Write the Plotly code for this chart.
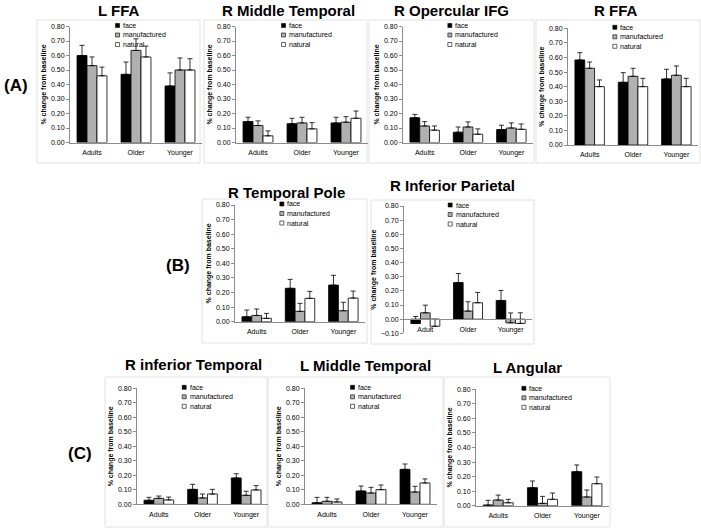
import plotly.graph_objects as go

# ---------------- data ----------------
CATS = ["Adults", "Older", "Younger"]
CATS_RIP = ["Adult", "Older", "Younger"]
SERIES = ["face", "manufactured", "natural"]
TICKS = [0.0, 0.1, 0.2, 0.3, 0.4, 0.5, 0.6, 0.7, 0.8]
TICKS_RIP = [-0.1, 0.0, 0.1, 0.2, 0.3, 0.4, 0.5, 0.6, 0.7, 0.8]

# each list: [face], [manufactured], [natural] over Adults / Older / Younger
L_FFA = [[0.60, 0.47, 0.39], [0.53, 0.635, 0.50], [0.46, 0.59, 0.50]]
L_FFA_ERR = [[0.07, 0.085, 0.09], [0.06, 0.08, 0.083], [0.06, 0.075, 0.078]]

R_MID_TEMP = [[0.144, 0.13, 0.135], [0.117, 0.135, 0.14], [0.046, 0.094, 0.167]]
R_MID_TEMP_ERR = [[0.03, 0.037, 0.039], [0.032, 0.039, 0.038], [0.034, 0.043, 0.05]]

R_OPERC_IFG = [[0.171, 0.071, 0.089], [0.114, 0.107, 0.10], [0.085, 0.057, 0.091]]
R_OPERC_IFG_ERR = [[0.023, 0.036, 0.03], [0.03, 0.035, 0.035], [0.029, 0.037, 0.037]]

R_FFA = [[0.583, 0.43, 0.453], [0.526, 0.471, 0.478], [0.40, 0.40, 0.40]]
R_FFA_ERR = [[0.05, 0.066, 0.066], [0.043, 0.055, 0.064], [0.046, 0.057, 0.057]]

R_TEMP_POLE = [[0.034, 0.229, 0.251], [0.043, 0.071, 0.075], [0.023, 0.16, 0.162]]
R_TEMP_POLE_ERR = [[0.046, 0.061, 0.067], [0.044, 0.055, 0.058], [0.034, 0.048, 0.048]]

R_INF_PAR = [[-0.031, 0.259, 0.132], [0.045, 0.057, -0.026], [-0.05, 0.116, -0.03]]
R_INF_PAR_ERR = [[0.05, 0.064, 0.071], [0.054, 0.066, 0.07], [0.05, 0.073, 0.075]]

R_INF_TEMP = [[0.028, 0.103, 0.182], [0.041, 0.044, 0.062], [0.03, 0.071, 0.099]]
R_INF_TEMP_ERR = [[0.02, 0.035, 0.029], [0.016, 0.027, 0.028], [0.02, 0.032, 0.03]]

L_MID_TEMP = [[0.011, 0.092, 0.241], [0.021, 0.078, 0.085], [0.016, 0.101, 0.147]]
L_MID_TEMP_ERR = [[0.037, 0.034, 0.037], [0.027, 0.039, 0.039], [0.021, 0.032, 0.028]]

L_ANGULAR = [[0.005, 0.124, 0.234], [0.039, 0.016, 0.06], [0.02, 0.044, 0.151]]
L_ANGULAR_ERR = [[0.032, 0.046, 0.046], [0.034, 0.048, 0.048], [0.024, 0.043, 0.046]]

# ---------------- styling / layout ----------------
W, H = 701, 532
FONT = "Arial, Liberation Sans, sans-serif"
COLORS = ["#000000", "#b0b0b0", "#ffffff"]
AXIS_COLOR = "#8c8c8c"
FRAME_COLOR = "#e2e2e2"
TEXT_COLOR = "#000000"

# title, cats, values, errors, ymin, plot px (x0, x1, y_top(0.8), y_bottom(ymin)), frame px, title px
PANELS = [
    ("L FFA", CATS, L_FFA, L_FFA_ERR, 0.0, (70, 202, 26.5, 142.5), (37, 20, 200, 163), (119, 10)),
    ("R Middle Temporal", CATS, R_MID_TEMP, R_MID_TEMP_ERR, 0.0, (236, 368, 26.5, 142.5), (204, 20, 367, 163), (288, 10)),
    ("R Opercular IFG", CATS, R_OPERC_IFG, R_OPERC_IFG_ERR, 0.0, (403, 533, 26.5, 142.5), (369, 20, 534, 163), (451, 10)),
    ("R FFA", CATS, R_FFA, R_FFA_ERR, 0.0, (568, 698, 28.3, 145), (536, 20, 700, 163), (615, 10)),
    ("R Temporal Pole", CATS, R_TEMP_POLE, R_TEMP_POLE_ERR, 0.0, (235, 365, 205, 321.7), (202, 199, 367, 343), (286, 193)),
    ("R Inferior Parietal", CATS_RIP, R_INF_PAR, R_INF_PAR_ERR, -0.1, (404, 532, 206, 333.3), (371, 200, 534, 344), (452, 185)),
    ("R inferior Temporal", CATS, R_INF_TEMP, R_INF_TEMP_ERR, 0.0, (137, 268, 388.3, 504.3), (105, 377, 267, 527), (193, 364)),
    ("L Middle Temporal", CATS, L_MID_TEMP, L_MID_TEMP_ERR, 0.0, (305, 437, 388.3, 504.3), (268, 377, 443, 527), (365, 365)),
    ("L Angular", CATS, L_ANGULAR, L_ANGULAR_ERR, 0.0, (476, 609, 389.3, 505.7), (444, 377, 610, 527), (527, 367)),
]

SECTION_LABELS = [("(A)", 16, 85), ("(B)", 178, 265), ("(C)", 80, 453)]


def px_x(p):
    return p / W


def px_y(p):
    return 1 - p / H


fig = go.Figure()
shapes = []
annotations = []
layout = {}

for i, (title, cats, vals, errs, ymin, plot, frame, tpos) in enumerate(PANELS, start=1):
    xa = "x" if i == 1 else f"x{i}"
    ya = "y" if i == 1 else f"y{i}"
    for s in range(3):
        fig.add_trace(go.Bar(
            x=cats, y=vals[s], name=SERIES[s], showlegend=False,
            xaxis=xa, yaxis=ya,
            marker=dict(color=COLORS[s], line=dict(color="black", width=0.8)),
            error_y=dict(type="data", array=errs[s], arrayminus=[0, 0, 0],
                         symmetric=False, color="black", thickness=0.8, width=2.5),
        ))
    x0, x1, ytop, ybot = plot
    ydom = [px_y(ybot), px_y(ytop)]
    ytick_vals = TICKS_RIP if ymin < 0 else TICKS
    xaxis = dict(
        domain=[px_x(x0), px_x(x1)], showline=True, linecolor=AXIS_COLOR, linewidth=1,
        showgrid=False, zeroline=False, ticks="", automargin=False, fixedrange=True,
        ticklabelstandoff=3,
        tickfont=dict(family=FONT, size=7, color=TEXT_COLOR),
    )
    if ymin < 0:
        zero_px = ytop + (0.8 - 0.0) / (0.8 - ymin) * (ybot - ytop)
        xaxis.update(anchor="free", position=px_y(zero_px))
    else:
        xaxis.update(anchor=ya)
    yaxis = dict(
        domain=ydom, anchor=xa, range=[ymin, 0.8], tickvals=ytick_vals, tickformat=".2f",
        showline=True, linecolor=AXIS_COLOR, linewidth=1, showgrid=False, zeroline=False,
        ticks="outside", ticklen=3, tickcolor=AXIS_COLOR, automargin=False, fixedrange=True,
        tickfont=dict(family=FONT, size=7, color=TEXT_COLOR),
        title=dict(text="% change from baseline", standoff=3,
                   font=dict(family=FONT, size=7, color=TEXT_COLOR, weight="bold")),
    )
    layout["xaxis" if i == 1 else f"xaxis{i}"] = xaxis
    layout["yaxis" if i == 1 else f"yaxis{i}"] = yaxis

    # chart frame
    fx0, fy0, fx1, fy1 = frame
    shapes.append(dict(type="rect", xref="paper", yref="paper",
                       x0=px_x(fx0), x1=px_x(fx1), y0=px_y(fy1), y1=px_y(fy0),
                       line=dict(color=FRAME_COLOR, width=1), layer="below"))
    # title
    annotations.append(dict(text=title, x=px_x(tpos[0]), y=px_y(tpos[1]), xref="paper", yref="paper",
                            xanchor="center", yanchor="middle", showarrow=False,
                            font=dict(family=FONT, size=15, color="black", weight="bold")))
    # legend (inside plot area)
    lx = x0 + 0.345 * (x1 - x0)
    for s, off in enumerate([-1.0, 8.5, 18.0]):
        cy = ytop + off
        shapes.append(dict(type="rect", xref="paper", yref="paper",
                           x0=px_x(lx), x1=px_x(lx + 4), y0=px_y(cy + 2), y1=px_y(cy - 2),
                           fillcolor=COLORS[s], line=dict(color="black", width=0.6)))
        annotations.append(dict(text=SERIES[s], x=px_x(lx + 5.5), y=px_y(cy), xref="paper", yref="paper",
                                xanchor="left", yanchor="middle", showarrow=False,
                                font=dict(family=FONT, size=7, color=TEXT_COLOR)))

for text, x, y in SECTION_LABELS:
    annotations.append(dict(text=text, x=px_x(x), y=px_y(y), xref="paper", yref="paper",
                            xanchor="center", yanchor="middle", showarrow=False,
                            font=dict(family=FONT, size=17, color="black", weight="bold")))

fig.update_layout(
    width=W, height=H, margin=dict(l=0, r=0, t=0, b=0),
    template="none", paper_bgcolor="white", plot_bgcolor="white",
    barmode="group", bargap=0.32, bargroupgap=0.0,
    showlegend=False, shapes=shapes, annotations=annotations,
    font=dict(family=FONT, size=7, color=TEXT_COLOR),
    **layout,
)

fig.write_html(
    "out.html",
    config={"displayModeBar": False},
    post_script="document.body.style.margin='0px';document.body.style.overflow='hidden';",
)
